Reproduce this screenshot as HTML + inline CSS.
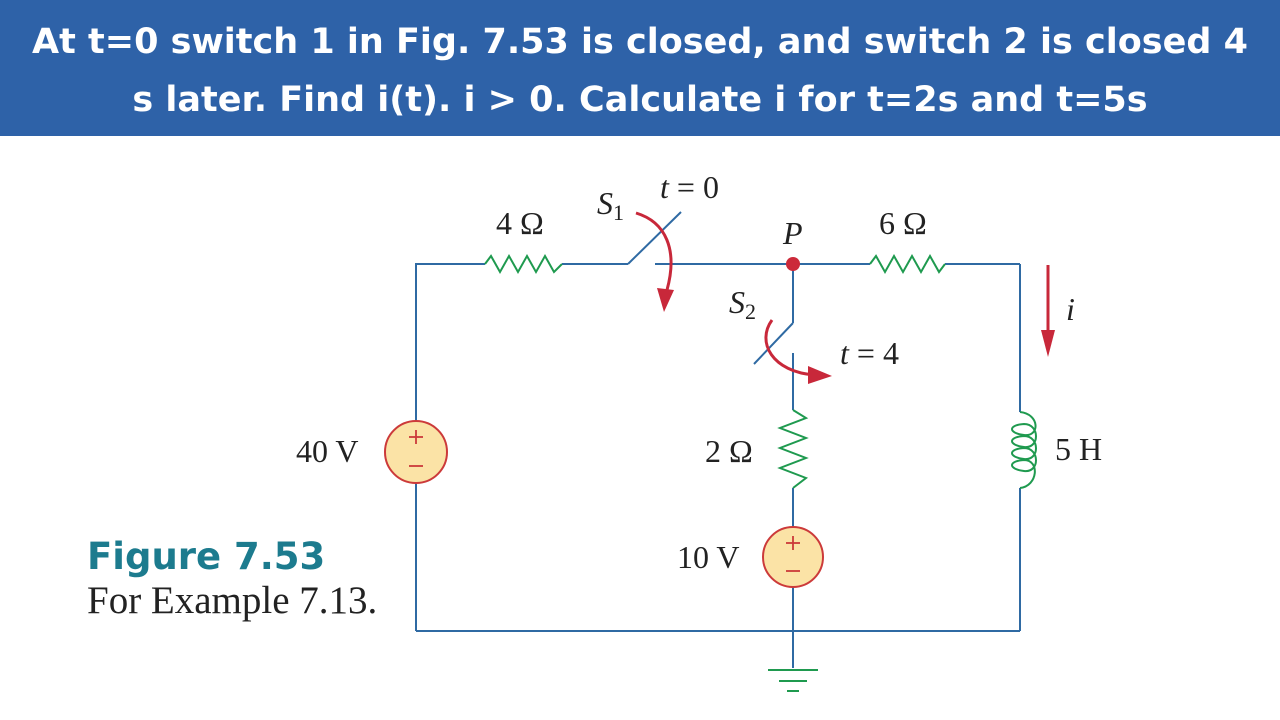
<!DOCTYPE html>
<html><head><meta charset="utf-8">
<style>
html,body{margin:0;padding:0;width:1280px;height:720px;overflow:hidden;background:#fff}
.hdr{position:absolute;left:0;top:0;width:1280px;height:136px;background:#2e62a8;color:#fff;
font-family:"DejaVu Sans","Liberation Sans",sans-serif;font-weight:bold;font-size:35px;text-align:center;line-height:58px;padding-top:13px;box-sizing:border-box;white-space:nowrap}
svg{position:absolute;left:0;top:0}
</style></head><body>
<div class="hdr">At t=0 switch 1 in Fig. 7.53 is closed, and switch 2 is closed 4<br>s later. Find i(t). i &gt; 0. Calculate i for t=2s and t=5s</div>
<svg width="1280" height="720" viewBox="0 0 1280 720">
<g fill="none" stroke="#2f6aa3" stroke-width="2">
<polyline points="416,421 416,264 485,264"/>
<line x1="416" y1="483" x2="416" y2="631"/>
<line x1="562" y1="264" x2="628" y2="264"/>
<line x1="628" y1="264" x2="681" y2="212"/>
<line x1="655" y1="264" x2="870" y2="264"/>
<line x1="945" y1="264" x2="1020" y2="264"/>
<line x1="1020" y1="264" x2="1020" y2="412"/>
<line x1="1020" y1="488" x2="1020" y2="631"/>
<line x1="416" y1="631" x2="1020" y2="631"/>
<line x1="793" y1="264" x2="793" y2="323"/>
<line x1="793" y1="323" x2="754" y2="364"/>
<line x1="793" y1="353" x2="793" y2="410"/>
<line x1="793" y1="488" x2="793" y2="527"/>
<line x1="793" y1="587" x2="793" y2="668"/>
</g>
<g fill="none" stroke="#1f9a4f" stroke-width="2">
<polyline points="485,264 491,256 500,272 509,256 518,272 527,256 536,272 545,256 554,272 562,264"/>
<polyline points="870,264 876,256 885,272 894,256 903,272 912,256 921,272 930,256 939,272 945,264"/>
<polyline points="793,410 806,418 780,428 806,438 780,448 806,458 780,468 806,478 793,488"/>
<path d="M1020,412 C1040,414 1040,437 1024,435 C1008,433 1008,425 1024,424 C1040,424 1040,449 1024,447 C1008,445 1008,437 1024,436 C1040,436 1040,461 1024,459 C1008,457 1008,449 1024,448 C1040,448 1040,473 1024,471 C1008,469 1008,461 1024,460 C1040,460 1038,486 1020,488"/>
<line x1="768" y1="670" x2="818" y2="670"/>
<line x1="779" y1="681" x2="807" y2="681"/>
<line x1="787" y1="691" x2="799" y2="691"/>
</g>
<g fill="#fbe3a6" stroke="#cc3a3a" stroke-width="2">
<circle cx="416" cy="452" r="31"/>
<circle cx="793" cy="557" r="30"/>
</g>
<g stroke="#cc3a3a" stroke-width="1.8">
<line x1="409" y1="437" x2="423" y2="437"/><line x1="416" y1="430" x2="416" y2="444"/>
<line x1="409" y1="466" x2="423" y2="466"/>
<line x1="786" y1="543" x2="800" y2="543"/><line x1="793" y1="536" x2="793" y2="550"/>
<line x1="786" y1="571" x2="800" y2="571"/>
</g>
<circle cx="793" cy="264" r="7" fill="#cc2a3a"/>
<g fill="none" stroke="#c8283a" stroke-width="3">
<path d="M636,213 C666,222 678,250 667,290"/>
<path d="M772,320 C756,342 772,372 815,375"/>
<line x1="1048" y1="265" x2="1048" y2="335"/>
</g>
<g fill="#c8283a">
<polygon points="657,288 674,290 664,312"/>
<polygon points="808,366 832,376 808,384"/>
<polygon points="1041,330 1055,330 1048,357"/>
</g>
<g font-family="Liberation Serif,serif" font-size="32" fill="#222">
<text x="496" y="234">4 Ω</text>
<text x="879" y="234">6 Ω</text>
<text x="296" y="462">40 V</text>
<text x="705" y="462">2 Ω</text>
<text x="1055" y="460">5 H</text>
<text x="677" y="568">10 V</text>
<text x="597" y="214" font-style="italic">S<tspan font-style="normal" font-size="22" dy="6">1</tspan></text>
<text x="729" y="313" font-style="italic">S<tspan font-style="normal" font-size="22" dy="6">2</tspan></text>
<text x="660" y="198"><tspan font-style="italic">t</tspan> = 0</text>
<text x="840" y="364"><tspan font-style="italic">t</tspan> = 4</text>
<text x="783" y="244" font-style="italic">P</text>
<text x="1066" y="320" font-style="italic">i</text>
</g>
<text x="87" y="569" font-family="DejaVu Sans,Liberation Sans,sans-serif" font-weight="bold" font-size="37" fill="#1c7b8e">Figure 7.53</text>
<text x="87" y="613" font-family="Liberation Serif,serif" font-size="39" fill="#222">For Example 7.13.</text>
</svg>
</body></html>
